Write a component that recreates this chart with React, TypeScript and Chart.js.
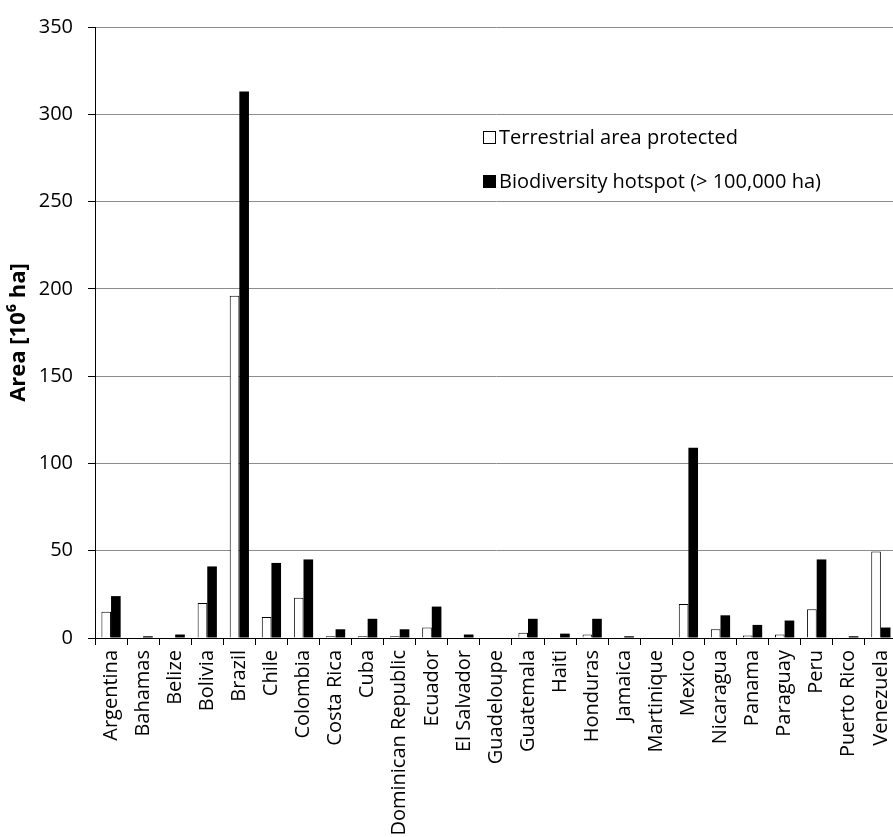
import { useEffect, useRef } from "react";
import { Chart, registerables } from "chart.js";

Chart.register(...registerables);

// Countries along the x axis
const countries = [
  "Argentina", "Bahamas", "Belize", "Bolivia", "Brazil", "Chile", "Colombia",
  "Costa Rica", "Cuba", "Dominican Republic", "Ecuador", "El Salvador",
  "Guadeloupe", "Guatemala", "Haiti", "Honduras", "Jamaica", "Martinique",
  "Mexico", "Nicaragua", "Panama", "Paraguay", "Peru", "Puerto Rico", "Venezuela",
];

// Area in 10^6 ha
const terrestrialProtected = [
  15, 0.5, 0.5, 20, 196, 12, 23, 1, 1, 1, 6, 0, 0, 3, 0, 2, 0.5, 0, 19.5, 5,
  1.5, 2, 16.5, 0, 49.5,
];
const biodiversityHotspot = [
  24, 1, 2, 41, 313, 43, 45, 5, 11, 5, 18, 2, 0.3, 11, 2.5, 11, 1, 0.3, 109, 13,
  7.5, 10, 45, 1, 6,
];

const yMin = 0;
const yMax = 350;
const yStep = 50;

const seriesNames = ["Terrestrial area protected", "Biodiversity hotspot (> 100,000 ha)"];

const FONT = "'Open Sans', 'DejaVu Sans', sans-serif";

export default function App() {
  const canvasRef = useRef<HTMLCanvasElement>(null);

  useEffect(() => {
    const chart = new Chart(canvasRef.current!, {
      type: "bar",
      data: {
        labels: countries,
        datasets: [
          {
            label: seriesNames[0],
            data: terrestrialProtected,
            backgroundColor: "#ffffff",
            borderColor: "#000000",
            borderWidth: 1,
            categoryPercentage: 0.6,
            barPercentage: 1,
          },
          {
            label: seriesNames[1],
            data: biodiversityHotspot,
            backgroundColor: "#000000",
            borderColor: "#000000",
            borderWidth: 0,
            categoryPercentage: 0.6,
            barPercentage: 1,
          },
        ],
      },
      options: {
        responsive: false,
        animation: false,
        layout: { padding: { top: 20, right: 7, left: 0, bottom: 0 } },
        plugins: {
          legend: { display: false },
          tooltip: { enabled: false },
        },
        scales: {
          x: {
            grid: {
              display: true,
              drawOnChartArea: false,
              drawTicks: true,
              tickLength: 7,
              color: "#000000",
              offset: true,
            },
            border: { color: "#000000", width: 1 },
            ticks: {
              autoSkip: false,
              minRotation: 90,
              maxRotation: 90,
              padding: 5,
              color: "#000000",
              font: { family: FONT, size: 20 },
            },
            afterFit: (s: any) => {
              s.height = 199;
            },
          },
          y: {
            min: yMin,
            max: yMax,
            ticks: {
              stepSize: yStep,
              padding: 15,
              color: "#000000",
              font: { family: FONT, size: 20 },
            },
            grid: {
              color: "#8c8c8c",
              tickColor: "#000000",
              tickLength: 7,
            },
            border: { color: "#000000", width: 1 },
            title: {
              display: true,
              text: "Area [10⁶ ha]",
              color: "#000000",
              font: { family: FONT, size: 22, weight: "bold" },
              padding: { top: 6, bottom: 0 },
            },
            afterFit: (s: any) => {
              s.width = 95;
            },
          },
        },
      },
    });
    return () => chart.destroy();
  }, []);

  const legendText: React.CSSProperties = {
    fontFamily: FONT,
    fontSize: 20,
    color: "#000",
    whiteSpace: "nowrap",
    lineHeight: "24px",
  };

  return (
    <div
      style={{
        position: "fixed",
        left: 0,
        top: 0,
        width: 893,
        height: 837,
        overflow: "hidden",
        background: "#fff",
      }}
    >
      <canvas ref={canvasRef} width={910} height={837} style={{ display: "block" }} />
      <div style={{ position: "absolute", left: 483, top: 125, display: "flex", alignItems: "center" }}>
        <span style={{ width: 11, height: 11, border: "1px solid #000", background: "#fff", marginRight: 3 }} />
        <span style={legendText}>{seriesNames[0]}</span>
      </div>
      <div style={{ position: "absolute", left: 483, top: 169, display: "flex", alignItems: "center" }}>
        <span style={{ width: 13, height: 13, background: "#000", marginRight: 3 }} />
        <span style={legendText}>{seriesNames[1]}</span>
      </div>
    </div>
  );
}
